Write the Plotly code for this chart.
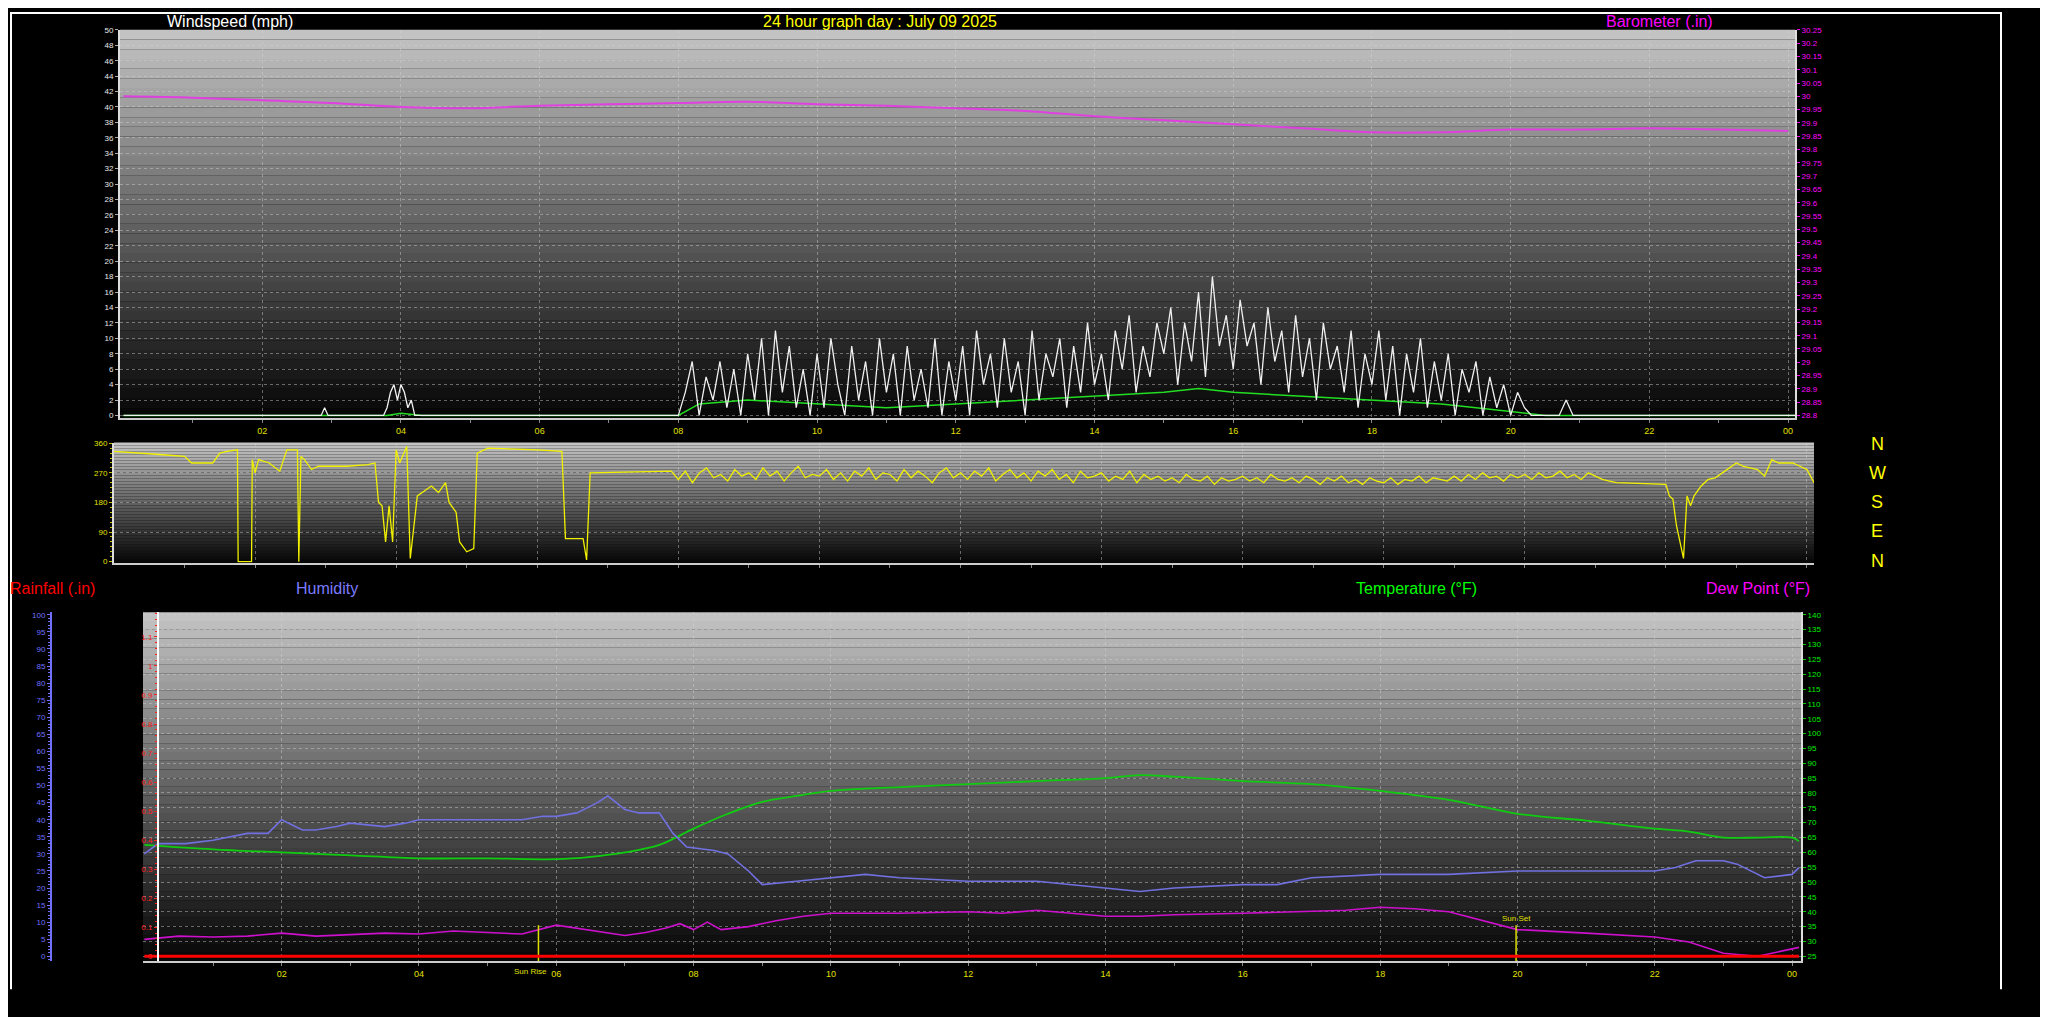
import plotly.graph_objects as go

# ---------------- data ----------------
hour_ticks = [2, 4, 6, 8, 10, 12, 14, 16, 18, 20, 22, 24]
hour_labels = ["02", "04", "06", "08", "10", "12", "14", "16", "18", "20", "22", "00"]

baro_hours = [0, 1, 2, 3, 4, 5, 6, 7, 8, 9, 10, 11, 12, 13, 14, 15, 16, 17, 18, 19, 20, 21, 22, 23, 24]
baro_vals = [30.00, 29.995, 29.985, 29.975, 29.96, 29.955, 29.965, 29.97, 29.975, 29.98, 29.97, 29.965,
             29.955, 29.945, 29.925, 29.91, 29.895, 29.88, 29.865, 29.865, 29.875, 29.875, 29.88, 29.875, 29.87]

wind_early_hours = [0, 2.85, 2.9, 2.95, 3.75, 3.8, 3.85, 3.9, 3.95, 4.0, 4.05, 4.1, 4.15, 4.2, 7.95]
wind_early_vals = [0, 0, 1, 0, 0, 1, 3, 4, 2, 4, 3, 1, 2, 0, 0]
wind_start = 8.0
wind_step = 0.1
wind_vals = [0, 3, 7, 0, 5, 2, 7, 1, 6, 0,
             8, 2, 10, 0, 11, 3, 9, 1, 6, 0,
             8, 1, 10, 4, 0, 9, 2, 7, 0, 10,
             3, 8, 0, 9, 2, 6, 1, 10, 0, 7,
             2, 9, 0, 11, 4, 8, 1, 10, 3, 7,
             0, 11, 2, 8, 5, 10, 1, 9, 3, 12,
             4, 8, 2, 11, 6, 13, 3, 9, 5, 12,
             8, 14, 4, 12, 7, 16, 5, 18, 9, 13,
             6, 15, 9, 12, 4, 14, 7, 11, 3, 13,
             5, 10, 2, 12, 6, 9, 3, 11, 1, 8,
             4, 11, 2, 9, 0, 8, 3, 10, 1, 7,
             2, 8, 0, 6, 3, 7, 0, 5, 1, 4,
             0, 3, 1, 0, 0, 0, 0, 0, 2, 0, 0]
wind_late_hours = [24.1]
wind_late_vals = [0]

avg_hours = [0, 3.8, 4.0, 4.3, 8.0, 8.3, 9, 10, 11, 12, 13, 14, 15, 15.5, 16, 17, 18, 19, 20, 20.5, 24.1]
avg_vals = [0, 0, 0.3, 0, 0, 1.5, 2, 1.5, 1, 1.5, 2, 2.5, 3, 3.5, 3, 2.5, 2, 1.5, 0.5, 0, 0]

dir_early_hours = [0.0, 0.4, 0.7, 1.0, 1.1, 1.4, 1.5, 1.6, 1.75, 1.76, 1.95, 1.96, 2.0, 2.05, 2.2, 2.35,
                   2.45, 2.6, 2.62, 2.65, 2.7, 2.8, 2.9, 3.3, 3.6, 3.7, 3.75, 3.8, 3.85, 3.9, 3.95, 4.0,
                   4.05, 4.15, 4.2, 4.3, 4.5, 4.6, 4.7, 4.75, 4.85, 4.9, 5.0, 5.1, 5.15, 5.3, 6.0, 6.35,
                   6.4, 6.65, 6.7, 6.75, 7.9]
dir_early_vals = [335, 330, 325, 320, 300, 300, 330, 335, 340, 0, 0, 310, 270, 310, 300, 275,
                  340, 340, 0, 320, 310, 280, 290, 290, 295, 300, 180, 170, 60, 170, 60, 340,
                  300, 350, 10, 200, 230, 210, 240, 180, 150, 60, 30, 40, 330, 345, 340, 335,
                  70, 70, 5, 270, 275]
dir_start = 8.0
dir_step = 0.1
dir_vals = [250, 275, 240, 270, 285, 255, 265, 245, 280, 260,
            270, 250, 285, 260, 275, 245, 270, 290, 255, 265,
            260, 280, 250, 270, 245, 275, 260, 285, 250, 270,
            265, 245, 280, 255, 275, 260, 240, 270, 285, 255,
            270, 250, 275, 260, 285, 245, 265, 280, 255, 270,
            245, 275, 260, 280, 250, 265, 240, 275, 255, 260,
            270, 245, 260, 250, 275, 240, 265, 250, 260, 245,
            255, 240, 265, 250, 245, 260, 235, 255, 245, 250,
            260, 245, 255, 240, 265, 250, 245, 255, 240, 260,
            250, 235, 255, 245, 260, 240, 250, 235, 255, 245,
            240, 255, 235, 250, 245, 260, 240, 255, 250, 245,
            260, 245, 265, 250, 270, 255, 260, 245, 265, 255,
            265, 250, 270, 255, 260, 275, 255, 265, 250, 270,
            260, 250, 245, 240]
dir_late_hours = [22.0, 22.05, 22.1, 22.15, 22.2, 22.25, 22.3, 22.35, 22.4, 22.5, 22.6, 22.7, 22.8,
                  23.0, 23.1, 23.3, 23.4, 23.5, 23.6, 23.8, 23.9, 24.0, 24.1]
dir_late_vals = [235, 200, 190, 110, 60, 10, 200, 170, 200, 230, 250, 255, 270,
                 300, 290, 280, 260, 310, 300, 300, 290, 280, 240]

temp_hours = [0, 1, 2, 3, 4, 5, 6, 6.5, 7, 7.5, 8, 8.5, 9, 9.5, 10, 11, 12, 13, 14, 14.5, 15, 16, 17, 18,
              19, 20, 21, 22, 22.5, 23, 23.5, 24, 24.1]
temp_vals = [62.5, 61, 60, 59, 58, 58, 57.7, 58.5, 60, 62.5, 68, 73, 77, 79, 80.7, 82, 83, 84, 85, 86, 85.5,
             84, 83, 80.7, 77.7, 73, 70.7, 68, 67, 65, 65, 65, 63.8]

hum_hours = [0, 0.2, 0.6, 1, 1.5, 1.8, 2, 2.3, 2.5, 2.8, 3, 3.5, 3.8, 4, 4.5, 5, 5.5, 5.8, 6, 6.3, 6.6,
             6.75, 7.0, 7.2, 7.5, 7.7, 7.9, 8.3, 8.5, 8.8, 9.0, 9.5, 10, 10.5, 11, 12, 13, 13.5, 14, 14.5,
             15, 16, 16.5, 17, 18, 19, 20, 21, 22, 22.3, 22.6, 23, 23.2, 23.6, 24, 24.1]
hum_vals = [30, 33, 33, 34, 36, 36, 40, 37, 37, 38, 39, 38, 39, 40, 40, 40, 40, 41, 41, 42, 45,
            47, 43, 42, 42, 36, 32, 31, 30, 25, 21, 22, 23, 24, 23, 22, 22, 21, 20, 19,
            20, 21, 21, 23, 24, 24, 25, 25, 25, 26, 28, 28, 27, 23, 24, 26]

dew_hours = [0, 0.5, 1, 1.5, 2, 2.5, 3, 3.5, 4, 4.5, 5, 5.5, 6, 6.3, 6.6, 7, 7.3, 7.6, 7.8, 8, 8.2, 8.4,
             8.8, 9.2, 9.6, 10, 11, 12, 12.5, 13, 13.5, 14, 14.5, 15, 16, 17, 17.5, 18, 18.5, 19, 19.5, 20,
             21, 22, 22.5, 23, 23.5, 24, 24.1]
dew_vals = [30.7, 31.8, 31.5, 31.8, 32.8, 31.8, 32.3, 32.8, 32.5, 33.5, 33, 32.5, 35.5, 34.5, 33.5, 32, 33,
            34.5, 36, 34, 36.5, 34, 35, 37, 38.5, 39.5, 39.5, 40, 39.5, 40.5, 39.5, 38.5, 38.5, 39,
            39.5, 40, 40.5, 41.5, 41, 40, 37, 34, 32.8, 31.5, 29.8, 26, 25, 27.6, 28]

rain_hours = [0, 24.1]
rain_vals = [0, 0]

sun_hours = [5.74, 19.98]
sun_labels = ["Sun Rise", "Sun Set"]

# ---------------- figure ----------------
W, H = 2048, 1017
FONT = "Liberation Sans"
fig = go.Figure()

def reg(start, step, vals):
    return [start + step * i for i in range(len(vals))]

wh = wind_early_hours + reg(wind_start, wind_step, wind_vals) + wind_late_hours
wv = wind_early_vals + wind_vals + wind_late_vals
fig.add_trace(go.Scatter(x=avg_hours, y=avg_vals, mode="lines", line=dict(color="#22dd22", width=1.5),
                         xaxis="x", yaxis="y"))
fig.add_trace(go.Scatter(x=wh, y=wv, mode="lines", line=dict(color="#f0f0f0", width=1.3),
                         xaxis="x", yaxis="y"))
fig.add_trace(go.Scatter(x=baro_hours, y=baro_vals, mode="lines", line=dict(color="#e040e0", width=2, shape="spline"),
                         xaxis="x", yaxis="y2"))

dh = dir_early_hours + reg(dir_start, dir_step, dir_vals) + dir_late_hours
dv = dir_early_vals + dir_vals + dir_late_vals
fig.add_trace(go.Scatter(x=dh, y=dv, mode="lines", line=dict(color="#f0f000", width=1.3),
                         xaxis="x2", yaxis="y3"))

fig.add_trace(go.Scatter(x=rain_hours, y=rain_vals, mode="lines", line=dict(color="#ff0000", width=3),
                         xaxis="x3", yaxis="y6"))
fig.add_trace(go.Scatter(x=hum_hours, y=hum_vals, mode="lines", line=dict(color="#7070e0", width=1.6),
                         xaxis="x3", yaxis="y5"))
fig.add_trace(go.Scatter(x=dew_hours, y=dew_vals, mode="lines", line=dict(color="#cc10cc", width=1.6),
                         xaxis="x3", yaxis="y4"))
fig.add_trace(go.Scatter(x=temp_hours, y=temp_vals, mode="lines", line=dict(color="#10cc10", width=1.8, shape="spline"),
                         xaxis="x3", yaxis="y4"))

for h, lab in zip(sun_hours, sun_labels):
    fig.add_trace(go.Scatter(x=[h, h], y=[23.3, 35.5], mode="lines", line=dict(color="#e0e000", width=1.5),
                             xaxis="x3", yaxis="y4"))

D1x, D1y = [112 / W, 1787 / W], [1 - 409 / H, 1 - 18 / H]
D2x, D2y = [106 / W, 1806 / W], [1 - 555 / H, 1 - 434 / H]
D3x, D3y = [135 / W, 1793 / W], [1 - 957 / H, 1 - 605 / H]

gridc = "rgba(210,210,210,0.45)"

def xax(domain, anchor, rng, labels=True):
    return dict(domain=domain, anchor=anchor, range=rng, tickvals=hour_ticks, ticktext=hour_labels,
                showticklabels=labels, tickfont=dict(family=FONT, size=9, color="#e0e000"),
                showgrid=True, gridcolor=gridc, griddash="dot", gridwidth=1, zeroline=False,
                ticks="outside", ticklen=3, tickcolor="#888888",
                minor=dict(tickvals=[1, 3, 5, 7, 9, 11, 13, 15, 17, 19, 21, 23], ticks="outside", ticklen=3, tickcolor="#888888"),
                showline=True, linecolor="#cccccc", linewidth=2)

fig.update_layout(
    width=W, height=H, margin=dict(l=0, r=0, t=0, b=0),
    paper_bgcolor="black", plot_bgcolor="black", showlegend=False,
    xaxis=xax(D1x, "y", [-0.05, 24.1]),
    yaxis=dict(domain=D1y, anchor="x", range=[-0.3, 50], tickvals=list(range(0, 51, 2)),
               tickfont=dict(family=FONT, size=8, color="#e8e8e8"), showgrid=True, gridcolor=gridc, griddash="dot",
               zeroline=False, ticks="outside", ticklen=3, tickcolor="#aaaaaa", showline=True, linecolor="#dddddd", linewidth=2),
    yaxis2=dict(overlaying="y", side="right", anchor="x", range=[28.8 - 0.3 * 1.45 / 50, 30.25],
                tickvals=[round(28.8 + 0.05 * i, 2) for i in range(30)],
                tickfont=dict(family=FONT, size=8, color="#ff00ff"), showgrid=False, zeroline=False,
                ticks="outside", ticklen=3, tickcolor="#ff00ff", showline=True, linecolor="#dddddd", linewidth=2),
    xaxis2=xax(D2x, "y3", [0, 24.1], labels=False),
    yaxis3=dict(domain=D2y, anchor="x2", range=[-3, 362], tickvals=[0, 90, 180, 270, 360],
                tickfont=dict(family=FONT, size=8, color="#e0e000"), showgrid=True, gridcolor=gridc, griddash="dot",
                zeroline=False, ticks="outside", ticklen=3, tickcolor="#c0c000",
                minor=dict(dtick=15, ticks="outside", ticklen=2, tickcolor="#c0c000"),
                showline=True, linecolor="#dddddd", linewidth=2),
    xaxis3=xax(D3x, "y4", [-0.02, 24.13]),
    yaxis4=dict(domain=D3y, anchor="x3", side="right", range=[23.26, 140.87], tickvals=list(range(25, 141, 5)),
                tickfont=dict(family=FONT, size=8, color="#00ee00"), showgrid=True, gridcolor=gridc, griddash="dot",
                zeroline=False, ticks="outside", ticklen=3, tickcolor="#00cc00", showline=True, linecolor="#dddddd", linewidth=2),
    yaxis5=dict(overlaying="y4", anchor="free", position=43 / W, side="left", range=[-1.5, 100.76],
                tickvals=list(range(0, 101, 5)), tickfont=dict(family=FONT, size=8, color="#7070ff"),
                showgrid=False, zeroline=False, ticks="outside", ticklen=3, tickcolor="#7070ff",
                minor=dict(dtick=1, ticks="outside", ticklen=2, tickcolor="#7070ff"),
                showline=True, linecolor="#7070ff", linewidth=2),
    yaxis6=dict(overlaying="y4", anchor="free", position=150 / W, side="left", range=[-0.018, 1.185],
                tickvals=[round(0.1 * i, 1) for i in range(12)], tickfont=dict(family=FONT, size=8, color="#ff2020"),
                showgrid=False, zeroline=False, ticks="outside", ticklen=3, tickcolor="#ff2020",
                minor=dict(dtick=0.02, ticks="outside", ticklen=2, tickcolor="#ff2020"),
                showline=True, linecolor="#ffffff", linewidth=2),
)

# gradient backgrounds
shapes = []
N = 40
for xr, yr in [("x", "y"), ("x2", "y3"), ("x3", "y4")]:
    for i in range(N):
        f = (i + 0.5) / N  # 0 bottom -> 1 top
        c = int(6 + 192 * f ** 1.05)
        shapes.append(dict(type="rect", xref=xr + " domain", yref=yr + " domain", x0=0, x1=1,
                           y0=i / N, y1=(i + 1) / N, fillcolor=f"rgb({c},{c},{c})", line=dict(width=0), layer="below"))
# outer frame
shapes += [
    dict(type="line", xref="paper", yref="paper", x0=3 / W, x1=3 / W, y0=1, y1=1 - 985 / H, line=dict(color="white", width=2)),
    dict(type="line", xref="paper", yref="paper", x0=1993 / W, x1=1993 / W, y0=1, y1=1 - 985 / H, line=dict(color="white", width=2)),
    dict(type="line", xref="paper", yref="paper", x0=3 / W, x1=1993 / W, y0=1 - 1 / H, y1=1 - 1 / H, line=dict(color="white", width=2)),
]
fig.update_layout(shapes=shapes)

def ann(text, x, y, color, size=16, xanchor="center"):
    return dict(text=text, x=x / W, y=1 - y / H, xref="paper", yref="paper", showarrow=False,
                font=dict(family=FONT, size=size, color=color), xanchor=xanchor, yanchor="middle")

anns = [
    ann("Windspeed (mph)", 222, 10, "#ffffff"),
    ann("24 hour graph day : July 09 2025", 872, 10, "#ffff00"),
    ann("Barometer (.in)", 1651, 10, "#ff00ff"),
    ann("Rainfall (.in)", 0, 581, "#ff0000", xanchor="left"),
    ann("Humidity", 319, 581, "#7b7bff"),
    ann("Temperature (°F)", 1408, 581, "#00ff00"),
    ann("Dew Point (°F)", 1750, 581, "#ff00ff"),
]
for i, L in enumerate(["N", "W", "S", "E", "N"]):
    anns.append(ann(L, 1869, 435 + 29.5 * i, "#ffff00", size=18))
fig.update_layout(annotations=anns)
fig.add_annotation(x=sun_hours[0], y=0, xref="x3", yref="y4 domain", text=sun_labels[0], showarrow=False,
                   yanchor="top", yshift=-4, xshift=-8, font=dict(family=FONT, size=8, color="#e0e000"))
fig.add_annotation(x=sun_hours[1], y=35.5, xref="x3", yref="y4", text=sun_labels[1], showarrow=False,
                   yanchor="bottom", font=dict(family=FONT, size=8, color="#e0e000"))

fig.write_html("out.html")
